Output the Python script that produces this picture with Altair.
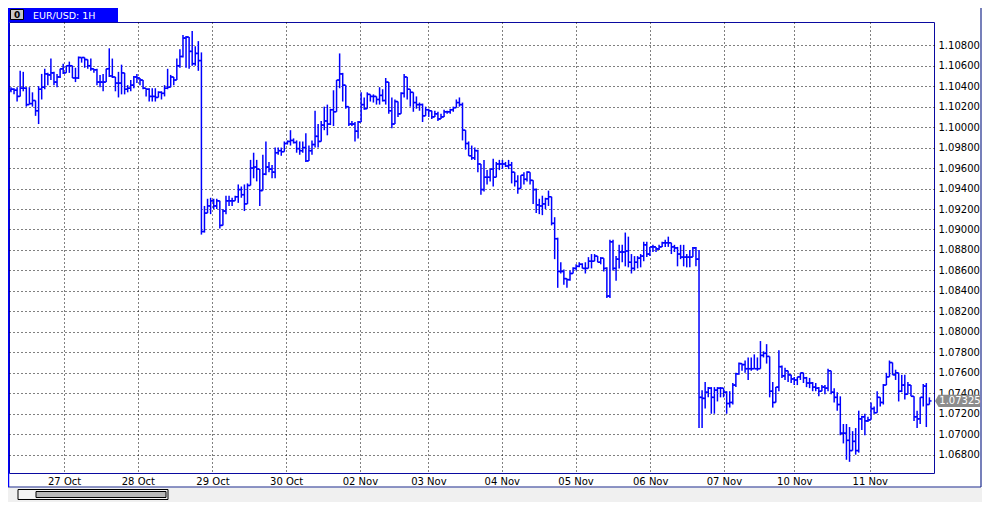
import altair as alt
import pandas as pd

symbol_title = "EUR/USD: 1H"
last_price = 1.07325

opens = [
    1.1036, 1.1037, 1.1036, 1.1030, 1.1038, 1.1038, 1.1022, 1.1023, 1.1026, 1.1016,
    1.1037, 1.1039, 1.1052, 1.1051, 1.1053, 1.1044, 1.1049, 1.1057, 1.1053, 1.1060,
    1.1060, 1.1048, 1.1048, 1.1068, 1.1068, 1.1066, 1.1060, 1.1057, 1.1056, 1.1044,
    1.1044, 1.1044, 1.1057, 1.1050, 1.1049, 1.1043, 1.1043, 1.1053, 1.1037, 1.1038,
    1.1041, 1.1049, 1.1048, 1.1046, 1.1038, 1.1037, 1.1030, 1.1030, 1.1029, 1.1034,
    1.1033, 1.1038, 1.1039, 1.1049, 1.1046, 1.1060, 1.1069, 1.1087, 1.1088, 1.1074,
    1.1062, 1.1072, 1.1065,
    1.0898, 1.0916, 1.0923, 1.0928, 1.0923, 1.0928, 1.0904,
    1.0918, 1.0928, 1.0928, 1.0928, 1.0932, 1.0939, 1.0934, 1.0925, 1.0943, 1.0960,
    1.0961, 1.0959, 1.0938, 1.0954, 1.0961, 1.0959, 1.0956, 1.0975, 1.0977, 1.0976,
    1.0984, 1.0986, 1.0987, 1.0985, 1.0979, 1.0977, 1.0980, 1.0967, 1.0977, 1.0983,
    1.0991, 1.0986, 1.1002, 1.1006, 1.1003, 1.1017, 1.1015, 1.1046, 1.1052, 1.1041,
    1.1020, 1.1003, 1.1003, 1.0996, 1.1005, 1.1022, 1.1018, 1.1032, 1.1030, 1.1030,
    1.1027, 1.1031, 1.1026, 1.1044, 1.1016, 1.1003, 1.1025, 1.1013, 1.1033, 1.1049,
    1.1037, 1.1034, 1.1024, 1.1022, 1.1022, 1.1011, 1.1017, 1.1016, 1.1010, 1.1013,
    1.1008, 1.1010, 1.1015, 1.1015, 1.1017, 1.1019, 1.1024, 1.1022, 1.0997, 1.0984,
    1.0972, 1.0970, 1.0977,
    1.0964, 1.0939, 1.0951, 1.0951, 1.0959, 1.0951, 1.0964,
    1.0964, 1.0964, 1.0962, 1.0963, 1.0956, 1.0947, 1.0940, 1.0953, 1.0949, 1.0956,
    1.0948, 1.0939, 1.0924, 1.0923, 1.0925, 1.0930, 1.0932, 1.0906, 1.0891, 1.0859,
    1.0859, 1.0852, 1.0851, 1.0857, 1.0862, 1.0864, 1.0866, 1.0862, 1.0862, 1.0869,
    1.0869, 1.0874, 1.0868, 1.0872, 1.0862, 1.0835, 1.0888, 1.0862, 1.0871, 1.0878,
    1.0878, 1.0879, 1.0868, 1.0862, 1.0868, 1.0872, 1.0874, 1.0885, 1.0876, 1.0883,
    1.0883, 1.0881, 1.0883, 1.0887, 1.0887, 1.0887, 1.0883, 1.0882, 1.0876, 1.0873,
    1.0873, 1.0873, 1.0873, 1.0882, 1.0871,
    1.0736, 1.0735, 1.0741, 1.0745, 1.0736,
    1.0743, 1.0745, 1.0745, 1.0741, 1.0730, 1.0731, 1.0748, 1.0759, 1.0769, 1.0768,
    1.0764, 1.0764, 1.0764, 1.0764, 1.0764, 1.0777, 1.0779, 1.0776, 1.0742, 1.0731,
    1.0746, 1.0766, 1.0757, 1.0762, 1.0758, 1.0754, 1.0753, 1.0756, 1.0760, 1.0755,
    1.0750, 1.0750, 1.0746, 1.0745, 1.0742, 1.0746, 1.0745, 1.0762, 1.0741, 1.0736,
    1.0729, 1.0701, 1.0701, 1.0694, 1.0684, 1.0693, 1.0684, 1.0715, 1.0717, 1.0713,
    1.0714, 1.0725, 1.0721, 1.0736, 1.0731, 1.0748, 1.0756, 1.0770, 1.0758, 1.0760,
    1.0742, 1.0748, 1.0739, 1.0748, 1.0737, 1.0717, 1.0715, 1.0736, 1.0747, 1.0729,
]

highs = [
    1.1039, 1.1038, 1.1039, 1.1055, 1.1054, 1.1039, 1.1039, 1.1034, 1.1026, 1.1040,
    1.1052, 1.1057, 1.1053, 1.1067, 1.1054, 1.1052, 1.1057, 1.1062, 1.1060, 1.1064,
    1.1060, 1.1058, 1.1069, 1.1068, 1.1068, 1.1066, 1.1067, 1.1057, 1.1057, 1.1051,
    1.1052, 1.1057, 1.1077, 1.1067, 1.1049, 1.1054, 1.1061, 1.1053, 1.1041, 1.1046,
    1.1050, 1.1052, 1.1048, 1.1046, 1.1038, 1.1038, 1.1038, 1.1038, 1.1035, 1.1035,
    1.1041, 1.1057, 1.1051, 1.1049, 1.1067, 1.1076, 1.1090, 1.1089, 1.1088, 1.1094,
    1.1079, 1.1084, 1.1073,
    1.0923, 1.0930, 1.0931, 1.0930, 1.0930, 1.0928, 1.0920,
    1.0933, 1.0933, 1.0931, 1.0933, 1.0944, 1.0942, 1.0944, 1.0945, 1.0968, 1.0975,
    1.0968, 1.0959, 1.0973, 1.0986, 1.0966, 1.0963, 1.0980, 1.0980, 1.0980, 1.0986,
    1.0987, 1.0997, 1.0989, 1.0987, 1.0986, 1.0986, 1.0994, 1.0982, 1.0987, 1.1016,
    1.1003, 1.1006, 1.1020, 1.1022, 1.1018, 1.1036, 1.1046, 1.1072, 1.1053, 1.1041,
    1.1020, 1.1006, 1.1005, 1.1006, 1.1034, 1.1029, 1.1034, 1.1032, 1.1032, 1.1030,
    1.1039, 1.1037, 1.1048, 1.1044, 1.1029, 1.1027, 1.1025, 1.1034, 1.1052, 1.1049,
    1.1037, 1.1034, 1.1030, 1.1024, 1.1023, 1.1020, 1.1018, 1.1016, 1.1016, 1.1015,
    1.1013, 1.1017, 1.1016, 1.1018, 1.1020, 1.1027, 1.1029, 1.1024, 1.0997, 1.0986,
    1.0982, 1.0980, 1.0978,
    1.0964, 1.0968, 1.0958, 1.0959, 1.0969, 1.0966, 1.0968,
    1.0968, 1.0966, 1.0968, 1.0966, 1.0956, 1.0953, 1.0953, 1.0956, 1.0957, 1.0956,
    1.0948, 1.0940, 1.0930, 1.0933, 1.0931, 1.0938, 1.0932, 1.0912, 1.0892, 1.0868,
    1.0861, 1.0852, 1.0860, 1.0863, 1.0866, 1.0868, 1.0867, 1.0868, 1.0873, 1.0876,
    1.0876, 1.0874, 1.0873, 1.0872, 1.0863, 1.0890, 1.0890, 1.0874, 1.0885, 1.0885,
    1.0897, 1.0893, 1.0876, 1.0874, 1.0874, 1.0876, 1.0888, 1.0888, 1.0883, 1.0885,
    1.0883, 1.0885, 1.0888, 1.0890, 1.0893, 1.0887, 1.0885, 1.0883, 1.0885, 1.0885,
    1.0876, 1.0880, 1.0883, 1.0883, 1.0880,
    1.0743, 1.0751, 1.0746, 1.0746, 1.0746,
    1.0746, 1.0746, 1.0745, 1.0742, 1.0742, 1.0750, 1.0760, 1.0770, 1.0769, 1.0772,
    1.0775, 1.0775, 1.0778, 1.0775, 1.0791, 1.0781, 1.0788, 1.0776, 1.0751, 1.0746,
    1.0782, 1.0767, 1.0765, 1.0762, 1.0758, 1.0756, 1.0756, 1.0760, 1.0760, 1.0756,
    1.0755, 1.0751, 1.0750, 1.0746, 1.0748, 1.0748, 1.0764, 1.0762, 1.0745, 1.0741,
    1.0737, 1.0710, 1.0710, 1.0707, 1.0703, 1.0706, 1.0723, 1.0718, 1.0720, 1.0717,
    1.0731, 1.0727, 1.0742, 1.0736, 1.0749, 1.0760, 1.0772, 1.0770, 1.0763, 1.0760,
    1.0758, 1.0758, 1.0751, 1.0748, 1.0737, 1.0723, 1.0736, 1.0749, 1.0750, 1.0736,
]

lows = [
    1.1034, 1.1032, 1.1025, 1.1030, 1.1035, 1.1020, 1.1022, 1.1020, 1.1011, 1.1003,
    1.1027, 1.1037, 1.1041, 1.1046, 1.1041, 1.1039, 1.1048, 1.1052, 1.1053, 1.1053,
    1.1048, 1.1044, 1.1047, 1.1063, 1.1058, 1.1057, 1.1055, 1.1053, 1.1041, 1.1039,
    1.1035, 1.1044, 1.1049, 1.1048, 1.1035, 1.1029, 1.1032, 1.1032, 1.1034, 1.1035,
    1.1038, 1.1043, 1.1041, 1.1037, 1.1030, 1.1025, 1.1025, 1.1025, 1.1029, 1.1027,
    1.1030, 1.1037, 1.1039, 1.1041, 1.1046, 1.1058, 1.1068, 1.1058, 1.1057, 1.1060,
    1.1060, 1.1055, 1.0895,
    1.0897, 1.0916, 1.0915, 1.0920, 1.0920, 1.0901, 1.0904,
    1.0915, 1.0923, 1.0923, 1.0928, 1.0926, 1.0931, 1.0918, 1.0925, 1.0943, 1.0950,
    1.0947, 1.0923, 1.0938, 1.0953, 1.0956, 1.0950, 1.0950, 1.0973, 1.0972, 1.0976,
    1.0983, 1.0982, 1.0984, 1.0975, 1.0973, 1.0975, 1.0966, 1.0967, 1.0973, 1.0980,
    1.0980, 1.0986, 1.0997, 1.0992, 1.1002, 1.1001, 1.1015, 1.1038, 1.1025, 1.1018,
    1.1001, 1.1001, 1.0986, 1.0989, 1.1005, 1.1017, 1.1018, 1.1025, 1.1024, 1.1022,
    1.1022, 1.1025, 1.1022, 1.1013, 1.0999, 1.1003, 1.1010, 1.1013, 1.1029, 1.1027,
    1.1020, 1.1015, 1.1018, 1.1016, 1.1005, 1.1011, 1.1010, 1.1008, 1.1010, 1.1006,
    1.1008, 1.1010, 1.1013, 1.1013, 1.1015, 1.1019, 1.1020, 1.0987, 1.0978, 1.0972,
    1.0968, 1.0968, 1.0956,
    1.0934, 1.0937, 1.0944, 1.0947, 1.0942, 1.0951, 1.0958,
    1.0959, 1.0961, 1.0959, 1.0945, 1.0942, 1.0935, 1.0940, 1.0944, 1.0947, 1.0944,
    1.0925, 1.0916, 1.0915, 1.0914, 1.0920, 1.0923, 1.0904, 1.0871, 1.0843, 1.0857,
    1.0846, 1.0843, 1.0850, 1.0857, 1.0860, 1.0863, 1.0862, 1.0857, 1.0862, 1.0862,
    1.0869, 1.0868, 1.0866, 1.0859, 1.0833, 1.0833, 1.0860, 1.0850, 1.0862, 1.0868,
    1.0864, 1.0863, 1.0857, 1.0860, 1.0862, 1.0863, 1.0869, 1.0873, 1.0874, 1.0878,
    1.0878, 1.0880, 1.0883, 1.0883, 1.0883, 1.0876, 1.0878, 1.0864, 1.0871, 1.0864,
    1.0863, 1.0863, 1.0873, 1.0864, 1.0706,
    1.0706, 1.0725, 1.0736, 1.0720, 1.0720,
    1.0732, 1.0736, 1.0736, 1.0720, 1.0726, 1.0729, 1.0746, 1.0758, 1.0762, 1.0760,
    1.0753, 1.0762, 1.0764, 1.0762, 1.0764, 1.0775, 1.0769, 1.0736, 1.0726, 1.0731,
    1.0742, 1.0755, 1.0753, 1.0751, 1.0750, 1.0748, 1.0748, 1.0753, 1.0750, 1.0746,
    1.0745, 1.0742, 1.0742, 1.0737, 1.0742, 1.0739, 1.0742, 1.0739, 1.0731, 1.0723,
    1.0699, 1.0691, 1.0675, 1.0673, 1.0684, 1.0680, 1.0682, 1.0704, 1.0699, 1.0712,
    1.0714, 1.0720, 1.0721, 1.0727, 1.0729, 1.0748, 1.0756, 1.0758, 1.0753, 1.0732,
    1.0741, 1.0734, 1.0739, 1.0737, 1.0713, 1.0706, 1.0710, 1.0727, 1.0707, 1.0729,
]

closes = [
    1.1037, 1.1036, 1.1030, 1.1038, 1.1038, 1.1022, 1.1023, 1.1026, 1.1016, 1.1037,
    1.1039, 1.1052, 1.1051, 1.1053, 1.1044, 1.1049, 1.1057, 1.1053, 1.1060, 1.1060,
    1.1048, 1.1048, 1.1068, 1.1068, 1.1066, 1.1060, 1.1057, 1.1056, 1.1044, 1.1044,
    1.1044, 1.1057, 1.1050, 1.1049, 1.1043, 1.1043, 1.1053, 1.1037, 1.1038, 1.1041,
    1.1049, 1.1048, 1.1046, 1.1038, 1.1037, 1.1030, 1.1030, 1.1029, 1.1034, 1.1033,
    1.1038, 1.1039, 1.1049, 1.1046, 1.1060, 1.1069, 1.1087, 1.1088, 1.1074, 1.1062,
    1.1072, 1.1065, 1.0898,
    1.0916, 1.0923, 1.0928, 1.0923, 1.0928, 1.0904, 1.0918,
    1.0928, 1.0928, 1.0928, 1.0932, 1.0939, 1.0934, 1.0925, 1.0943, 1.0960, 1.0961,
    1.0959, 1.0938, 1.0954, 1.0961, 1.0959, 1.0956, 1.0975, 1.0977, 1.0976, 1.0984,
    1.0986, 1.0987, 1.0985, 1.0979, 1.0977, 1.0980, 1.0967, 1.0977, 1.0983, 1.0991,
    1.0986, 1.1002, 1.1006, 1.1003, 1.1017, 1.1015, 1.1046, 1.1052, 1.1041, 1.1020,
    1.1003, 1.1003, 1.0996, 1.1005, 1.1022, 1.1018, 1.1032, 1.1030, 1.1030, 1.1027,
    1.1031, 1.1026, 1.1044, 1.1016, 1.1003, 1.1025, 1.1013, 1.1033, 1.1049, 1.1037,
    1.1034, 1.1024, 1.1022, 1.1022, 1.1011, 1.1017, 1.1016, 1.1010, 1.1013, 1.1008,
    1.1010, 1.1015, 1.1015, 1.1017, 1.1019, 1.1024, 1.1022, 1.0997, 1.0984, 1.0972,
    1.0970, 1.0977, 1.0964,
    1.0939, 1.0951, 1.0951, 1.0959, 1.0951, 1.0964, 1.0964,
    1.0964, 1.0962, 1.0963, 1.0956, 1.0947, 1.0940, 1.0953, 1.0949, 1.0956, 1.0948,
    1.0939, 1.0924, 1.0923, 1.0925, 1.0930, 1.0932, 1.0906, 1.0891, 1.0859, 1.0859,
    1.0852, 1.0851, 1.0857, 1.0862, 1.0864, 1.0866, 1.0862, 1.0862, 1.0869, 1.0869,
    1.0874, 1.0868, 1.0872, 1.0862, 1.0835, 1.0888, 1.0862, 1.0871, 1.0878, 1.0878,
    1.0879, 1.0868, 1.0862, 1.0868, 1.0872, 1.0874, 1.0885, 1.0876, 1.0883, 1.0883,
    1.0881, 1.0883, 1.0887, 1.0887, 1.0887, 1.0883, 1.0882, 1.0876, 1.0873, 1.0873,
    1.0873, 1.0873, 1.0882, 1.0871, 1.0736,
    1.0735, 1.0741, 1.0745, 1.0736, 1.0743,
    1.0745, 1.0745, 1.0741, 1.0730, 1.0731, 1.0748, 1.0759, 1.0769, 1.0768, 1.0764,
    1.0764, 1.0764, 1.0764, 1.0764, 1.0777, 1.0779, 1.0776, 1.0742, 1.0731, 1.0746,
    1.0766, 1.0757, 1.0762, 1.0758, 1.0754, 1.0753, 1.0756, 1.0760, 1.0755, 1.0750,
    1.0750, 1.0746, 1.0745, 1.0742, 1.0746, 1.0745, 1.0762, 1.0741, 1.0736, 1.0729,
    1.0701, 1.0701, 1.0694, 1.0684, 1.0693, 1.0684, 1.0715, 1.0717, 1.0713, 1.0714,
    1.0725, 1.0721, 1.0736, 1.0731, 1.0748, 1.0756, 1.0770, 1.0758, 1.0760, 1.0742,
    1.0748, 1.0739, 1.0748, 1.0737, 1.0717, 1.0715, 1.0736, 1.0747, 1.0729, 1.07325,
]

date_labels = ["27 Oct", "28 Oct", "29 Oct", "30 Oct", "02 Nov", "03 Nov",
               "04 Nov", "05 Nov", "06 Nov", "07 Nov", "10 Nov", "11 Nov"]
date_positions = [17.3, 41.3, 65.6, 89.6, 113.6, 135.9,
                  159.8, 183.8, 208.1, 232.1, 255.0, 279.6]
price_ticks = [1.068, 1.070, 1.072, 1.074, 1.076, 1.078, 1.080, 1.082, 1.084,
               1.086, 1.088, 1.090, 1.092, 1.094, 1.096, 1.098, 1.100, 1.102,
               1.104, 1.106, 1.108]

W, H = 925, 451
FONT = "DejaVu Sans"
BAR = "#0000ff"

df = pd.DataFrame({"i": list(range(len(closes))), "open": opens, "high": highs,
                   "low": lows, "close": closes})

xscale = alt.Scale(domain=[-0.64, 300.5], nice=False, zero=False)
yscale = alt.Scale(domain=[1.06621, 1.11027], nice=False, zero=False)

labels_js = "[" + ",".join("'%s'" % d for d in date_labels) + "]"
pos_js = "[" + ",".join(str(p) for p in date_positions) + "]"

x_axis = alt.Axis(values=date_positions,
                  labelExpr=labels_js + "[indexof(" + pos_js + ", datum.value)]",
                  grid=True, gridColor="#000000", gridDash=[1, 3], gridWidth=1,
                  ticks=False, domain=False, title=None, labelFont=FONT,
                  labelFontSize=10, labelColor="#000000", labelPadding=3,
                  labelOverlap=False, labelFlush=False)
y_axis = alt.Axis(orient="right", values=price_ticks, format=".5f",
                  grid=True, gridColor="#000000", gridDash=[1, 3], gridWidth=1,
                  ticks=False, domain=False, title=None, labelFont=FONT,
                  labelFontSize=10, labelColor="#000000", labelPadding=4,
                  labelBaseline="middle")

base = alt.Chart(df)

wicks = base.mark_rule(color=BAR, strokeWidth=1.5).encode(
    x=alt.X("i:Q", scale=xscale, axis=x_axis),
    y=alt.Y("low:Q", scale=yscale, axis=y_axis),
    y2="high:Q",
)
open_ticks = base.transform_calculate(xo="datum.i - 0.7").mark_rule(
    color=BAR, strokeWidth=1.5).encode(
    x=alt.X("xo:Q", scale=xscale, axis=x_axis),
    x2="i:Q",
    y=alt.Y("open:Q", scale=yscale, axis=y_axis),
)
close_ticks = base.transform_calculate(xc="datum.i + 0.7").mark_rule(
    color=BAR, strokeWidth=1.5).encode(
    x=alt.X("i:Q", scale=xscale, axis=x_axis),
    x2="xc:Q",
    y=alt.Y("close:Q", scale=yscale, axis=y_axis),
)

one = pd.DataFrame({"k": [0]})

# window chrome: header tab, icon, bottom strip, scrollbar, frame lines
header_tab = alt.Chart(one).mark_rect(color="#0000ff").encode(
    x=alt.value(-1), x2=alt.value(109), y=alt.value(-14), y2=alt.value(0))
icon_box = alt.Chart(one).mark_rect(fill="#c8c8c8", stroke="#000000", strokeWidth=1).encode(
    x=alt.value(1.5), x2=alt.value(14.5), y=alt.value(-12.5), y2=alt.value(-2.5))
icon_txt = alt.Chart(one).mark_text(font=FONT, fontSize=9, fontWeight="bold",
                                    color="#000000", align="center", baseline="middle").encode(
    x=alt.value(8), y=alt.value(-7.5), text=alt.value("0"))
header_txt = alt.Chart(one).mark_text(font=FONT, fontSize=9.5, color="#ffffff",
                                      align="left", baseline="alphabetic").encode(
    x=alt.value(24), y=alt.value(-3), text=alt.value(symbol_title))
bottom_strip = alt.Chart(one).mark_rect(color="#f0f0f0").encode(
    x=alt.value(-1), x2=alt.value(W + 48), y=alt.value(H + 14.5), y2=alt.value(H + 29))
bottom_line = alt.Chart(one).mark_rule(color="#1c2a8c", strokeWidth=1.2).encode(
    x=alt.value(-1), x2=alt.value(W + 47), y=alt.value(H + 14))
right_line = alt.Chart(one).mark_rule(color="#1c2a8c", strokeWidth=1.2).encode(
    x=alt.value(W + 47), y=alt.value(-14), y2=alt.value(H + 14))
left_line = alt.Chart(one).mark_rule(color="#0000ff", strokeWidth=1.5).encode(
    x=alt.value(-0.5), y=alt.value(-14), y2=alt.value(H + 14))
scroll_box = alt.Chart(one).mark_rect(fill="#f4f4f4", stroke="#000000", strokeWidth=1).encode(
    x=alt.value(9), x2=alt.value(159), y=alt.value(H + 16.5), y2=alt.value(H + 26.5))
scroll_thumb = alt.Chart(one).mark_rect(fill="#b8b8b8", stroke="#000000", strokeWidth=1).encode(
    x=alt.value(27), x2=alt.value(157), y=alt.value(H + 18.5), y2=alt.value(H + 24.5))

# current price tag on the price axis
price_df = pd.DataFrame({"price": [last_price]})
tag_shape = "M -1 0 L -0.84 -0.27 L 1 -0.27 L 1 0.27 L -0.84 0.27 Z"
price_tag = alt.Chart(price_df).mark_point(shape=tag_shape, size=2025, filled=True,
                                           color="#8c8c8c", opacity=1, strokeWidth=0).encode(
    x=alt.value(W + 23.5), y=alt.Y("price:Q", scale=yscale, axis=y_axis))
price_txt = alt.Chart(price_df).mark_text(font=FONT, fontSize=10, color="#ffffff",
                                          align="center", baseline="middle").encode(
    x=alt.value(W + 26), y=alt.Y("price:Q", scale=yscale, axis=y_axis),
    text=alt.Text("price:Q", format=".5f"))

chart = alt.layer(
    bottom_strip, wicks, open_ticks, close_ticks,
    header_tab, icon_box, icon_txt, header_txt,
    bottom_line, right_line, left_line, scroll_box, scroll_thumb,
    price_tag, price_txt,
).properties(
    width=W, height=H,
    padding={"left": 1, "top": 14, "right": 48, "bottom": 29},
    autosize=alt.AutoSizeParams(type="none"),
    background="#ffffff",
).configure_view(
    stroke="#0a0aa0", strokeWidth=1,
)

chart.save("out.html", embed_options={"renderer": "svg", "actions": False})
